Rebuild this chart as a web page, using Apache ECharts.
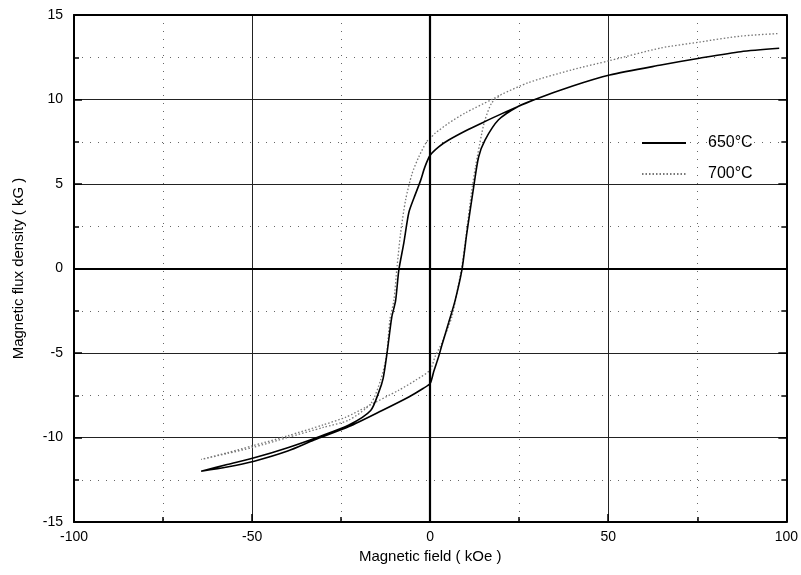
<!DOCTYPE html>
<html>
<head>
<meta charset="utf-8">
<script src="https://cdn.jsdelivr.net/npm/echarts@6/dist/echarts.min.js"></script>
<style>html,body{margin:0;padding:0;background:#fff}#c{width:801px;height:575px}</style>
</head>
<body>
<div id="c"></div>
<script>
// ---- data ----
const seriesNames = ['650°C', '700°C'];
const xTicks = [-100, -50, 0, 50, 100];
const yTicks = [-15, -10, -5, 0, 5, 10, 15];
// 650°C loop: descending branch then ascending branch [H (kOe), B (kG)]
const loop650 = [
  [98, 13.03], [87.2, 12.83], [75.6, 12.44], [64.8, 12.04], [50.4, 11.45], [40, 10.8],
  [29.4, 10.0], [20, 9.15], [14.4, 8.6], [10, 8.15], [5.2, 7.6], [2.4, 7.2], [0, 6.7],
  [-1.5, 6.0], [-2.7, 5.2], [-4.5, 4.2], [-6, 3.3], [-7.4, 1.5], [-8.8, -0.1], [-9.7, -1.9],
  [-10.8, -2.9], [-12.1, -5.0], [-13.2, -6.5], [-14.4, -7.3], [-16.7, -8.4], [-22.8, -9.26],
  [-31.2, -9.95], [-40, -10.6], [-49.4, -11.2], [-57, -11.6], [-64.3, -12.0],
  [-57, -11.75], [-49.4, -11.4], [-40, -10.8], [-32.6, -10.15], [-22.8, -9.35], [-13.5, -8.4],
  [-6, -7.6], [-2, -7.1], [0, -6.8], [1, -6.1], [2.4, -5.2], [3.2, -4.6], [5.2, -3.2],
  [7.0, -1.9], [8.9, -0.1], [10.3, 2.1], [12.2, 4.8], [13.6, 6.6], [15.4, 7.6], [19.2, 8.8],
  [24.8, 9.6], [29.4, 10.0]
];
// 700°C loop: descending branch then ascending branch [H (kOe), B (kG)]
const loop700 = [
  [97.5, 13.9], [87.2, 13.75], [75.6, 13.4], [64.8, 13.05], [50.4, 12.3], [39.7, 11.75],
  [27.6, 11.0], [20, 10.3], [17.3, 10.0], [9.8, 9.2], [5.2, 8.6], [1.4, 8.0], [0, 7.7],
  [-1, 7.5], [-3.2, 6.6], [-5.1, 5.6], [-6.9, 4.05], [-8.3, 2.1], [-9.3, 0.1], [-10.2, -1.9],
  [-11.3, -3.0], [-12.3, -5.2], [-13.9, -6.6], [-16.7, -8.0], [-22.8, -8.96], [-30, -9.4],
  [-40, -10.0], [-50, -10.6], [-57, -10.95], [-64.3, -11.3],
  [-57, -10.9], [-50, -10.5], [-40, -9.9], [-30, -9.25], [-23.7, -8.8], [-18, -8.2],
  [-8.8, -7.2], [-4, -6.6], [0, -6.0], [1.4, -5.2], [3.3, -4.4], [6.1, -2.85], [8, -0.9],
  [8.9, 0.1], [10, 1.8], [11.6, 4.5], [12.7, 6.0], [14.5, 8.0], [15.4, 8.8], [17.3, 9.8],
  [20, 10.3]
];

const FONT = 'Liberation Sans, Arial, sans-serif';
const chart = echarts.init(document.getElementById('c'), null, {renderer: 'canvas'});
const gridRect = {left: 74, right: 12, top: 15, bottom: 53};

function baseAxis(min, max, interval) {
  return {
    type: 'value', min: min, max: max, interval: interval,
    axisLine: {show: true, onZero: false, lineStyle: {color: '#000', width: 2}},
    axisTick: {show: true, inside: true, length: 8, lineStyle: {color: '#000', width: 1.5}},
    minorTick: {show: true, splitNumber: 2, length: 5, lineStyle: {color: '#000', width: 1.5}},
    axisLabel: {show: false},
    splitLine: {show: false},
    minorSplitLine: {show: false}
  };
}

const xMain = Object.assign(baseAxis(xTicks[0], xTicks[xTicks.length - 1], xTicks[1] - xTicks[0]), {
  position: 'bottom',
  name: 'Magnetic field ( kOe )', nameLocation: 'middle', nameGap: 27,
  nameTextStyle: {fontFamily: FONT, fontSize: 15, color: '#000'},
  axisLabel: {show: true, margin: 8, fontFamily: FONT, fontSize: 14, color: '#000'},
  splitLine: {show: true, lineStyle: {color: '#222', width: 1}},
  minorSplitLine: {show: true, lineStyle: {color: '#666', width: 1, type: [1, 7]}}
});
const xTop = Object.assign(baseAxis(xTicks[0], xTicks[xTicks.length - 1], xTicks[1] - xTicks[0]), {
  position: 'top'
});
xTop.axisTick = {show: false};
xTop.minorTick = {show: false};

const yMain = Object.assign(baseAxis(yTicks[0], yTicks[yTicks.length - 1], yTicks[1] - yTicks[0]), {
  position: 'left',
  name: 'Magnetic flux density ( kG )', nameLocation: 'middle', nameGap: 48,
  nameTextStyle: {fontFamily: FONT, fontSize: 15, color: '#000'},
  axisLabel: {show: true, margin: 11, fontFamily: FONT, fontSize: 14, color: '#000'},
  splitLine: {show: true, lineStyle: {color: '#222', width: 1}},
  minorSplitLine: {show: true, lineStyle: {color: '#666', width: 1, type: [1, 7]}}
});
const yRight = Object.assign(baseAxis(yTicks[0], yTicks[yTicks.length - 1], yTicks[1] - yTicks[0]), {
  position: 'right'
});

chart.setOption({
  animation: false,
  backgroundColor: '#fff',
  grid: gridRect,
  xAxis: [xMain, xTop],
  yAxis: [yMain, yRight],
  legend: {
    orient: 'vertical', left: 636, top: 130, itemWidth: 44, itemHeight: 14, itemGap: 15,
    data: seriesNames,
    itemStyle: {opacity: 0},
    textStyle: {fontFamily: FONT, fontSize: 16, color: '#000', padding: [0, 0, 0, 17]}
  },
  series: [
    {
      name: seriesNames[0], type: 'line', data: loop650, showSymbol: false, symbol: 'none',
      smooth: 0.25, lineStyle: {color: '#000', width: 1.6},
      itemStyle: {color: 'rgba(0,0,0,0)'},
      markLine: {
        silent: true, symbol: 'none', label: {show: false},
        lineStyle: {color: '#000', width: 2.2, type: 'solid'},
        data: [{xAxis: 0}, {yAxis: 0}]
      },
      z: 3
    },
    {
      name: seriesNames[1], type: 'line', data: loop700, showSymbol: false, symbol: 'none',
      smooth: 0.25, lineStyle: {color: '#777', width: 1.3, type: [1.5, 2]},
      itemStyle: {color: 'rgba(0,0,0,0)'},
      z: 2
    }
  ]
});
</script>
</body>
</html>
